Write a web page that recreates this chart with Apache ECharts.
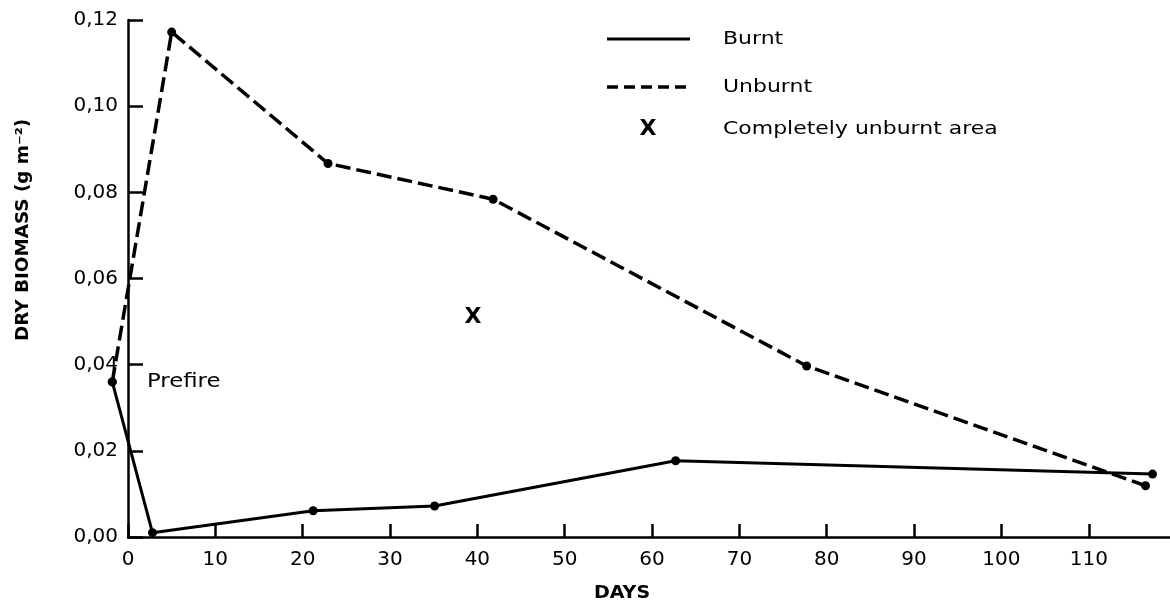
<!DOCTYPE html>
<html>
<head>
<meta charset="utf-8">
<script src="https://cdn.jsdelivr.net/npm/echarts@6/dist/echarts.min.js"></script>
<style>
html,body{margin:0;padding:0;background:#fff;}
#chart{width:1170px;height:604px;}
</style>
</head>
<body>
<div id="chart"></div>
<script>
// ---- data ----
var burntDays = [-1.8, 2.8, 21.2, 35.1, 62.7, 117.3];
var burntVals = [0.036, 0.001, 0.0061, 0.0072, 0.0177, 0.0146];
var unburntDays = [-1.8, 5.0, 22.9, 41.8, 77.7, 116.5];
var unburntVals = [0.036, 0.1172, 0.0867, 0.0784, 0.0397, 0.0119];
var completeDays = [39.5];
var completeVals = [0.051];
var xTicks = [0, 10, 20, 30, 40, 50, 60, 70, 80, 90, 100, 110];
var yTicks = [0, 0.02, 0.04, 0.06, 0.08, 0.10, 0.12];

function pairs(xs, ys) { return xs.map(function (x, i) { return [x, ys[i]]; }); }

var FONT = 'DejaVu Sans';
var X_MIN = 0, X_MAX = 119.3, X_DATA_MIN = -2.2;
var GRID_LEFT = 128, GRID_RIGHT = 0, GRID_TOP = 20, GRID_BOTTOM = 67;
var pxPerDay = (1170 - GRID_LEFT - GRID_RIGHT) / (X_MAX - X_MIN);

var chart = echarts.init(document.getElementById('chart'), null, {renderer: 'canvas'});

var option = {
  backgroundColor: '#ffffff',
  animation: false,
  grid: [
    // grid 0: data (extends slightly left of the y axis for the prefire point)
    {left: GRID_LEFT + X_DATA_MIN * pxPerDay, right: GRID_RIGHT, top: GRID_TOP, bottom: GRID_BOTTOM, containLabel: false},
    // grid 1: visible axes
    {left: GRID_LEFT, right: GRID_RIGHT, top: GRID_TOP, bottom: GRID_BOTTOM, containLabel: false}
  ],
  xAxis: [
    {gridIndex: 0, type: 'value', min: X_DATA_MIN, max: X_MAX, show: false},
    {
      gridIndex: 1, type: 'value', min: X_MIN, max: X_MAX,
      axisLine: {show: true, lineStyle: {color: '#000', width: 2.5}},
      axisTick: {show: true, inside: true, length: 13, lineStyle: {color: '#000', width: 2.5}, customValues: xTicks},
      axisLabel: {show: true, customValues: xTicks, margin: 13, color: '#000', fontFamily: FONT, fontSize: 20,
        formatter: function (v) { return String(v); }},
      splitLine: {show: false}
    }
  ],
  yAxis: [
    {gridIndex: 0, type: 'value', min: 0, max: 0.12, show: false},
    {
      gridIndex: 1, type: 'value', min: 0, max: 0.12,
      axisLine: {show: true, lineStyle: {color: '#000', width: 2.5}},
      axisTick: {show: true, inside: true, length: 15, lineStyle: {color: '#000', width: 2.5}, customValues: yTicks},
      axisLabel: {show: true, customValues: yTicks, margin: 10, color: '#000', fontFamily: FONT, fontSize: 20,
        formatter: function (v) { return v.toFixed(2).replace('.', ','); }},
      splitLine: {show: false}
    }
  ],
  series: [
    {
      name: 'Burnt', type: 'line', xAxisIndex: 0, yAxisIndex: 0, clip: false,
      data: pairs(burntDays, burntVals),
      symbol: 'circle', symbolSize: 9, showSymbol: true,
      itemStyle: {color: '#000'},
      lineStyle: {color: '#000', width: 3, type: 'solid'}
    },
    {
      name: 'Unburnt', type: 'line', xAxisIndex: 0, yAxisIndex: 0, clip: false,
      data: pairs(unburntDays, unburntVals),
      symbol: 'circle', symbolSize: 9, showSymbol: true,
      itemStyle: {color: '#000'},
      lineStyle: {color: '#000', width: 3.5, type: [15, 6]}
    },
    {
      name: 'Completely unburnt area', type: 'scatter', xAxisIndex: 0, yAxisIndex: 0,
      data: pairs(completeDays, completeVals),
      symbol: 'circle', symbolSize: 0,
      itemStyle: {color: '#000', opacity: 1},
      label: {show: true, position: 'inside', formatter: 'X', color: '#000', opacity: 1,
        fontFamily: FONT, fontWeight: 'bold', fontSize: 22}
    }
  ],
  graphic: [
    // legend
    {type: 'line', shape: {x1: 607, y1: 39, x2: 690, y2: 39}, style: {stroke: '#000', lineWidth: 3}},
    {type: 'text', x: 723, y: 39, scaleX: 1.22, style: {text: 'Burnt', fill: '#000', font: '18px "DejaVu Sans"', textAlign: 'left', textVerticalAlign: 'middle'}},
    {type: 'line', shape: {x1: 607, y1: 87, x2: 690, y2: 87}, style: {stroke: '#000', lineWidth: 3.5, lineDash: [11, 6]}},
    {type: 'text', x: 723, y: 87, scaleX: 1.22, style: {text: 'Unburnt', fill: '#000', font: '18px "DejaVu Sans"', textAlign: 'left', textVerticalAlign: 'middle'}},
    {type: 'text', x: 648, y: 129, style: {text: 'X', fill: '#000', font: 'bold 22px "DejaVu Sans"', textAlign: 'center', textVerticalAlign: 'middle'}},
    {type: 'text', x: 723, y: 129, scaleX: 1.22, style: {text: 'Completely unburnt area', fill: '#000', font: '18px "DejaVu Sans"', textAlign: 'left', textVerticalAlign: 'middle'}},
    // annotation
    {type: 'text', x: 147, y: 382, scaleX: 1.2, style: {text: 'Prefire', fill: '#000', font: '19px "DejaVu Sans"', textAlign: 'left', textVerticalAlign: 'middle'}},
    // axis titles
    {type: 'text', x: 24, y: 230, rotation: Math.PI / 2, scaleX: 1.08, style: {text: 'DRY BIOMASS (g m\u207B\u00B2)', fill: '#000', font: 'bold 17px "DejaVu Sans"', textAlign: 'center', textVerticalAlign: 'middle'}},
    {type: 'text', x: 622, y: 594, scaleX: 1.12, style: {text: 'DAYS', fill: '#000', font: 'bold 17px "DejaVu Sans"', textAlign: 'center', textVerticalAlign: 'middle'}}
  ]
};
chart.setOption(option);
</script>
</body>
</html>
